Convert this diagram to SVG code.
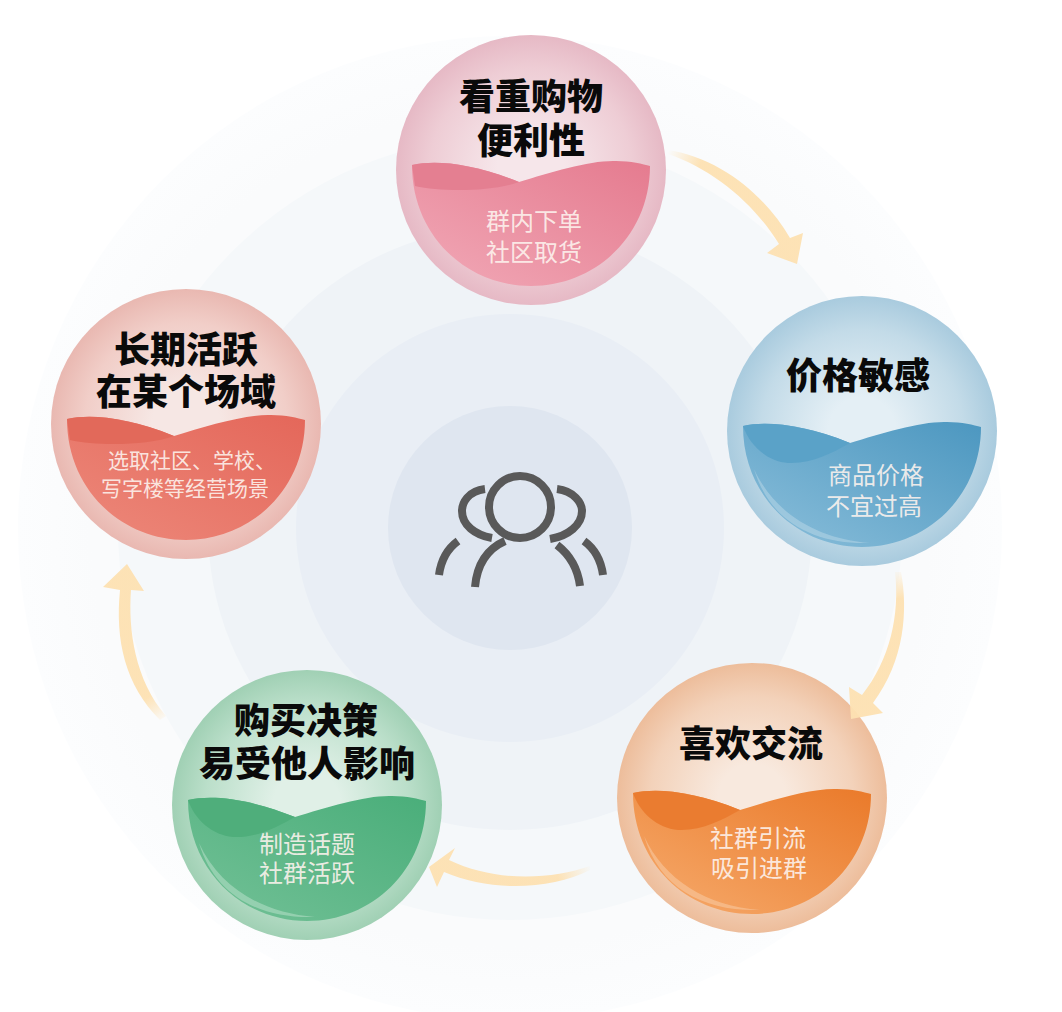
<svg xmlns="http://www.w3.org/2000/svg" width="1062" height="1012" viewBox="0 0 1062 1012">
<defs>
<style>
.t{font-family:"Noto Sans CJK SC","Noto Sans",sans-serif;font-weight:900;font-size:36px;fill:#0a0a0a;text-anchor:middle}
.s{font-family:"Noto Sans CJK SC","Noto Sans",sans-serif;font-weight:400;font-size:24px;fill:#fdf3ee;fill-opacity:.9;text-anchor:middle}
.i{fill:none;stroke:#595959;stroke-width:8}
</style>
<radialGradient id="bg0"><stop offset="0.85" stop-color="#fafbfc"/><stop offset="1" stop-color="#fcfdfe"/></radialGradient>
<radialGradient id="gp"><stop offset="0.25" stop-color="#f6e6ea"/><stop offset="0.75" stop-color="#eecdd5"/><stop offset="1" stop-color="#e6b9c5"/></radialGradient>
<radialGradient id="gb"><stop offset="0.25" stop-color="#e4eff5"/><stop offset="0.75" stop-color="#c3dbe8"/><stop offset="1" stop-color="#a9cbde"/></radialGradient>
<radialGradient id="go"><stop offset="0.25" stop-color="#f8e9de"/><stop offset="0.75" stop-color="#f3d2ba"/><stop offset="1" stop-color="#edbd9b"/></radialGradient>
<radialGradient id="gg"><stop offset="0.25" stop-color="#e0f0e7"/><stop offset="0.75" stop-color="#bbdfca"/><stop offset="1" stop-color="#a0d0b4"/></radialGradient>
<radialGradient id="gr"><stop offset="0.25" stop-color="#f6e7e4"/><stop offset="0.75" stop-color="#f1cec8"/><stop offset="1" stop-color="#e9b8b1"/></radialGradient>
<linearGradient id="wp" x1="0" y1="1" x2="1" y2="0"><stop offset="0.1" stop-color="#f0a4b3"/><stop offset="1" stop-color="#e57b8f"/></linearGradient>
<linearGradient id="wb" x1="0" y1="1" x2="1" y2="0"><stop offset="0.1" stop-color="#85bbd8"/><stop offset="1" stop-color="#4c97c0"/></linearGradient>
<linearGradient id="wo" x1="0" y1="1" x2="1" y2="0"><stop offset="0.1" stop-color="#f5a666"/><stop offset="1" stop-color="#ea7a2a"/></linearGradient>
<linearGradient id="wg" x1="0" y1="1" x2="1" y2="0"><stop offset="0.1" stop-color="#6fbf94"/><stop offset="1" stop-color="#4aae7a"/></linearGradient>
<linearGradient id="wr" x1="0" y1="1" x2="1" y2="0"><stop offset="0.1" stop-color="#ec8577"/><stop offset="1" stop-color="#e4675a"/></linearGradient>
<linearGradient id="a1" gradientUnits="userSpaceOnUse" x1="668" y1="152" x2="700" y2="165"><stop offset="0" stop-color="#fde1b2" stop-opacity="0"/><stop offset="1" stop-color="#fde1b2"/></linearGradient>
<linearGradient id="a2" gradientUnits="userSpaceOnUse" x1="898" y1="568" x2="902" y2="598"><stop offset="0" stop-color="#fde1b2" stop-opacity="0"/><stop offset="1" stop-color="#fde1b2"/></linearGradient>
<linearGradient id="a3" gradientUnits="userSpaceOnUse" x1="592" y1="868" x2="558" y2="878"><stop offset="0" stop-color="#fde1b2" stop-opacity="0"/><stop offset="1" stop-color="#fde1b2"/></linearGradient>
<linearGradient id="a4" gradientUnits="userSpaceOnUse" x1="165" y1="722" x2="148" y2="697"><stop offset="0" stop-color="#fde1b2" stop-opacity="0"/><stop offset="1" stop-color="#fde1b2"/></linearGradient>
<path id="bowl" d="M-119,-5C-95,-10-60,-7-12,12C20,2 60,-10 85,-9C100,-9 112,-6 119,-4C119,65 65,116 0,116C-65,116-119,65-119,-5Z"/>
<path id="lip" d="M-119,-5C-95,-10-60,-7-12,12C-40,22-90,22-116,16Z"/>
<path id="lip2" d="M-119,-5C-95,-10-60,-7-12,12C-30,22-50,33-74,32C-95,30-112,15-119,-5Z"/>
<path id="cres" d="M-108,38C-88,82-45,108 8,112C-45,114-92,92-108,38Z"/>
</defs>
<rect width="1062" height="1012" fill="#fff"/>
<g id="background">
<circle cx="510" cy="528" r="492" fill="url(#bg0)"/>
<circle cx="510" cy="528" r="392" fill="#f5f8fa"/>
<circle cx="510" cy="528" r="302" fill="#eff3f7"/>
<circle cx="510" cy="528" r="214" fill="#e9eef5"/>
<circle cx="510" cy="528" r="122" fill="#dfe6f0"/>
</g>
<g id="center-icon">
<circle class="i" cx="520" cy="507" r="31"/>
<path class="i" d="M475,587C477,565 487,549 505,541"/>
<path class="i" d="M557,545C570,555 578,570 580,586"/>
<path class="i" d="M485,489C468,491 462,503 462,511C462,525 475,535 492,538"/>
<path class="i" d="M557,489C574,491 582,503 582,511C582,525 568,536 550,539"/>
<path class="i" d="M439,575C441,560 447,549 458,541"/>
<path class="i" d="M603,575C601,560 595,549 584,541"/>
</g>
<g id="node-pink" transform="translate(531,170)">
<circle r="135" fill="url(#gp)"/>
<use href="#bowl" fill="url(#wp)"/><use href="#lip" fill="#e47f91"/>
<text class="t" y="-60">看重购物</text><text class="t" y="-16">便利性</text>
<text class="s" x="3" y="60">群内下单</text><text class="s" x="3" y="91">社区取货</text>
</g>
<g id="node-blue" transform="translate(862,431)">
<circle r="135" fill="url(#gb)"/>
<use href="#bowl" fill="url(#wb)"/><use href="#lip2" fill="#5aa2c8"/><use href="#cres" fill="#d6e8f2" fill-opacity=".35"/>
<text class="t" x="-4" y="-42">价格敏感</text>
<text class="s" x="14" y="53">商品价格</text><text class="s" x="12" y="84">不宜过高</text>
</g>
<g id="node-orange" transform="translate(752,798)">
<circle r="135" fill="url(#go)"/>
<use href="#bowl" fill="url(#wo)"/><use href="#lip2" fill="#ea7c30"/><use href="#cres" fill="#fbdcc0" fill-opacity=".4"/>
<text class="t" x="-1" y="-41">喜欢交流</text>
<text class="s" x="6" y="49">社群引流</text><text class="s" x="7" y="79">吸引进群</text>
</g>
<g id="node-green" transform="translate(307,805)">
<circle r="135" fill="url(#gg)"/>
<use href="#bowl" fill="url(#wg)"/><use href="#lip2" fill="#4fae7b"/><use href="#cres" fill="#d5eedf" fill-opacity=".4"/>
<text class="t" x="-1" y="-71">购买决策</text><text class="t" y="-28">易受他人影响</text>
<text class="s" y="48">制造话题</text><text class="s" y="77">社群活跃</text>
</g>
<g id="node-red" transform="translate(186,424)">
<circle r="135" fill="url(#gr)"/>
<use href="#bowl" fill="url(#wr)"/><use href="#lip" fill="#e2695a"/>
<text class="t" y="-61">长期活跃</text><text class="t" y="-19">在某个场域</text>
<text class="s" style="font-size:21px" x="6" y="44">选取社区、学校、</text><text class="s" style="font-size:21px" x="-1" y="72">写字楼等经营场景</text>
</g>
<g id="connectors" fill-opacity=".95">
<path fill="url(#a1)" d="M668,150C720,158 765,195 790,238L803,233L797,264L767,253L779,244C755,205 715,170 668,154Z"/>
<path fill="url(#a2)" d="M901,572C908,610 905,660 873,703L883,713L851,719L849,687L862,695C890,660 900,615 895,572Z"/>
<path fill="url(#a3)" d="M590,866C550,880 495,882 449,860L455,848L429,867L437,887L444,872C490,892 550,890 590,870Z"/>
<path fill="url(#a4)" d="M166,716C135,680 128,630 131,590L144,591L127,564L103,587L120,590C115,640 125,685 160,720Z"/>
</g>
</svg>
